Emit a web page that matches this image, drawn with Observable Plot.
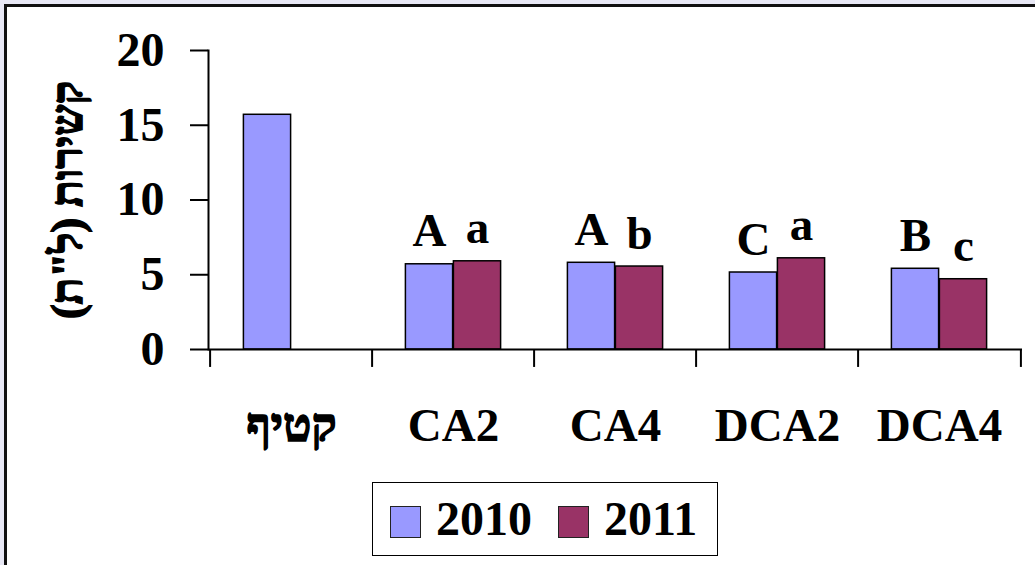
<!DOCTYPE html>
<html>
<head>
<meta charset="utf-8">
<script src="https://cdn.jsdelivr.net/npm/d3@7"></script>
<script src="https://cdn.jsdelivr.net/npm/@observablehq/plot@0.6"></script>
<style>
  html, body { margin: 0; padding: 0; }
  body { width: 1035px; height: 565px; background: #E8E8F5; position: relative; overflow: hidden;
         font-family: "Liberation Serif", "Times New Roman", serif; }
  #frame { position: absolute; left: 4px; top: 4px; width: 1040px; height: 570px;
           border-left: 3px solid #111; border-top: 3px solid #111; background: #fff; }
  #chart { position: absolute; left: 0; top: 0; }
  #legend { position: absolute; left: 372px; top: 482px; width: 344px; height: 72px;
            border: 1.5px solid #000; background: #fff; font-weight: bold; font-size: 48px; }
  .sw { position: absolute; top: 23px; width: 29px; height: 30px; border: 1.5px solid #222; }
  .lt { position: absolute; top: 6px; line-height: 60px; }
</style>
</head>
<body>
<div id="frame"></div>
<div id="chart"></div>
<div id="legend"></div>
<script>
const categories = ["קטיף", "CA2", "CA4", "DCA2", "DCA4"];
const years = ["2010", "2011"];
const values2010 = [15.7, 5.7, 5.8, 5.15, 5.4];
const values2011 = [null, 5.9, 5.55, 6.1, 4.7];
const letters2010 = ["", "A", "A", "C", "B"];
const letters2011 = ["", "a", "b", "a", "c"];
const yTicks = [0, 5, 10, 15, 20];
const yLabel = "קשירות (ל\"ת)";
const colors = ["#9999FF", "#993366"];

const rows2010 = categories.map((c, i) => ({cat: c, year: years[0], value: values2010[i], letter: letters2010[i]}));
const rows2011 = categories.map((c, i) => ({cat: c, year: years[1], value: values2011[i], letter: letters2011[i]}))
  .filter(d => d.value != null);

const W = 1035, H = 470, mL = 208, mR = 13, mT = 50, mB = 121;
const bw = (W - mL - mR) / categories.length;
const barW = 48;
const font = "Liberation Serif, Times New Roman, serif";

const plot = Plot.plot({
  width: W, height: H,
  marginLeft: mL, marginRight: mR, marginTop: mT, marginBottom: mB,
  style: {fontFamily: font, background: "transparent", overflow: "visible"},
  x: {domain: categories, padding: 0, label: null},
  y: {domain: [0, 20], label: null},
  marks: [
    Plot.barY(rows2010, {x: "cat", y: "value", fill: colors[0], stroke: "#000", strokeWidth: 1.5,
      insetLeft: bw / 2 - barW, insetRight: bw / 2}),
    Plot.barY(rows2011, {x: "cat", y: "value", fill: colors[1], stroke: "#000", strokeWidth: 1.5,
      insetLeft: bw / 2, insetRight: bw / 2 - barW}),
    Plot.text(rows2010, {x: "cat", y: "value", text: "letter", dx: -barW / 2, dy: -18, lineAnchor: "bottom",
      fontSize: 47, fontWeight: "bold", fill: "#000"}),
    Plot.text(rows2011, {x: "cat", y: "value", text: "letter", dx: barW / 2, dy: -18, lineAnchor: "bottom",
      fontSize: 47, fontWeight: "bold", fill: "#000"}),
    Plot.frame({anchor: "left", stroke: "#000", strokeWidth: 2}),
    Plot.ruleY([0], {stroke: "#000", strokeWidth: 2}),
    Plot.ruleX(categories, {x: d => d, dx: -bw / 2, y1: 0, y2: -1.2, stroke: "#000", strokeWidth: 2}),
    Plot.ruleX(categories.slice(-1), {x: d => d, dx: bw / 2, y1: 0, y2: -1.2, stroke: "#000", strokeWidth: 2}),
    Plot.axisY({ticks: yTicks, tickSize: 18, tickPadding: 26, tickFormat: d => String(d),
      fontSize: 48, fontWeight: "bold", stroke: "#000", strokeWidth: 2, fill: "#000", label: null}),
    Plot.axisX({tickSize: 0, tickPadding: 58, fontSize: 47, fontWeight: "bold", fill: "#000", label: null}),
    Plot.text([yLabel], {frameAnchor: "left", dx: -141, rotate: -90, textAnchor: "middle",
      fontSize: 44, fontWeight: "bold", fill: "#000"})
  ]
});
// Heavier rendering of Hebrew strings (the fallback Hebrew face has no true bold)
d3.select(plot).selectAll("text").filter(function() { return /[\u0590-\u05FF]/.test(this.textContent); })
  .attr("stroke", "#000").attr("stroke-width", 1.6).attr("paint-order", "stroke");
document.getElementById("chart").appendChild(plot);

const legend = document.getElementById("legend");
const swX = [17, 185], txX = [63, 231];
years.forEach((y, i) => {
  const s = document.createElement("div");
  s.className = "sw"; s.style.left = swX[i] + "px"; s.style.background = colors[i];
  legend.appendChild(s);
  const t = document.createElement("div");
  t.className = "lt"; t.style.left = txX[i] + "px"; t.textContent = y;
  legend.appendChild(t);
});
</script>
</body>
</html>
